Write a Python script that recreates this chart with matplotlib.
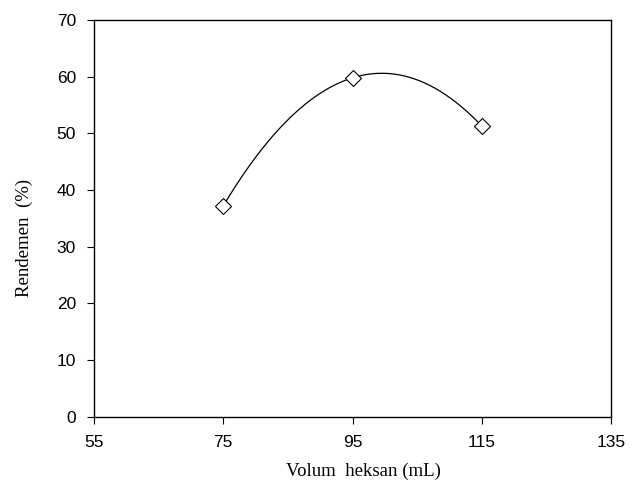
import numpy as np
import matplotlib
matplotlib.use("Agg")
import matplotlib.pyplot as plt

volume = [75, 95, 115]
yield_pct = [37.2, 59.8, 51.3]
x_ticks = [55, 75, 95, 115, 135]
y_ticks = [0, 10, 20, 30, 40, 50, 60, 70]

plt.rcParams['font.family'] = ['Liberation Serif', 'DejaVu Serif']

fig = plt.figure(figsize=(6.43, 4.86), dpi=100)
ax = fig.add_axes([94/643, 69.3/486, 517/643, 396.7/486])

coef = np.polyfit(volume, yield_pct, 2)
xs = np.linspace(min(volume), max(volume), 200)
ax.plot(xs, np.polyval(coef, xs), color='black', lw=0.9)
ax.plot(volume, yield_pct, linestyle='none', marker='D', markersize=8.2,
        markerfacecolor='white', markeredgecolor='black', markeredgewidth=0.8)

ax.set_xlim(55, 135)
ax.set_ylim(0, 70)
ax.set_xticks(x_ticks)
ax.set_yticks(y_ticks)
ax.tick_params(direction='out', length=5, width=0.8, pad=8, labelsize=12.5, colors='black')
for lab in ax.get_xticklabels() + ax.get_yticklabels():
    lab.set_fontfamily(['Liberation Sans', 'DejaVu Sans'])
for s in ax.spines.values():
    s.set_linewidth(1.0)
ax.set_xlabel('Volum  heksan (mL)', fontsize=13.5)
ax.set_ylabel('Rendemen  (%)', fontsize=13.5)
ax.xaxis.set_label_coords(0.522, -0.115)
ax.yaxis.set_label_coords(-0.118, 0.45)

fig.savefig('out.png', dpi=100)
